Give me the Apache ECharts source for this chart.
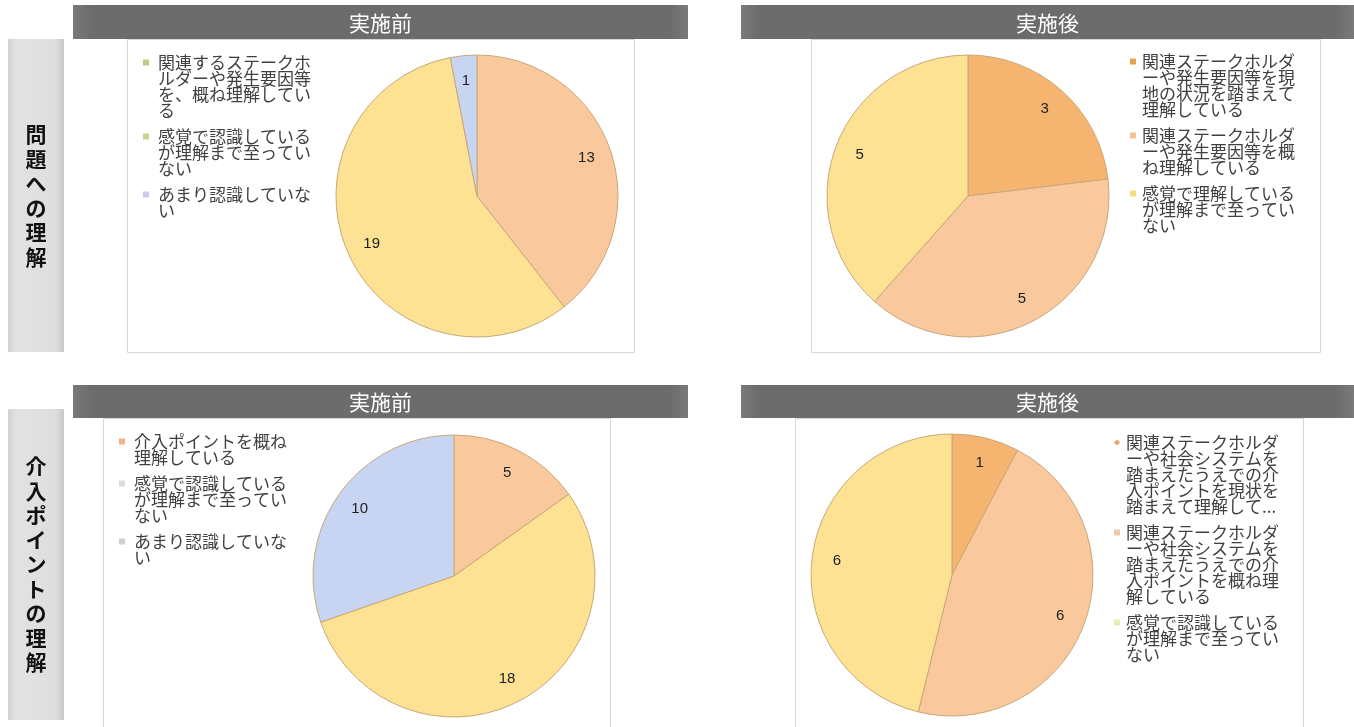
<!DOCTYPE html>
<html>
<head>
<meta charset="utf-8">
<script src="https://cdn.jsdelivr.net/npm/echarts@6/dist/echarts.min.js"></script>
<style>
  html, body { margin: 0; padding: 0; background: #ffffff; }
  #chart { width: 1354px; height: 727px; }
</style>
</head>
<body>
<div id="chart"></div>
<script>
// ---- 問題への理解：実施前 ----
const problemBeforeNames = [
  '関連するステークホルダーや発生要因等を、概ね理解している',
  '感覚で認識しているが理解まで至っていない',
  'あまり認識していない'
];
const problemBeforeLegend = [
  '関連するステークホ\nルダーや発生要因等\nを、概ね理解してい\nる',
  '感覚で認識している\nが理解まで至ってい\nない',
  'あまり認識していな\nい'
];
const problemBeforeValues = [13, 19, 1];

// ---- 問題への理解：実施後 ----
const problemAfterNames = [
  '関連ステークホルダーや発生要因等を現地の状況を踏まえて理解している',
  '関連ステークホルダーや発生要因等を概ね理解している',
  '感覚で理解しているが理解まで至っていない'
];
const problemAfterLegend = [
  '関連ステークホルダ\nーや発生要因等を現\n地の状況を踏まえて\n理解している',
  '関連ステークホルダ\nーや発生要因等を概\nね理解している',
  '感覚で理解している\nが理解まで至ってい\nない'
];
const problemAfterValues = [3, 5, 5];

// ---- 介入ポイントの理解：実施前 ----
const pointBeforeNames = [
  '介入ポイントを概ね理解している',
  '感覚で認識しているが理解まで至っていない',
  'あまり認識していない'
];
const pointBeforeLegend = [
  '介入ポイントを概ね\n理解している',
  '感覚で認識している\nが理解まで至ってい\nない',
  'あまり認識していな\nい'
];
const pointBeforeValues = [5, 18, 10];

// ---- 介入ポイントの理解：実施後 ----
const pointAfterNames = [
  '関連ステークホルダーや社会システムを踏まえたうえでの介入ポイントを現状を踏まえて理解している',
  '関連ステークホルダーや社会システムを踏まえたうえでの介入ポイントを概ね理解している',
  '感覚で認識しているが理解まで至っていない'
];
const pointAfterLegend = [
  '関連ステークホルダ\nーや社会システムを\n踏まえたうえでの介\n入ポイントを現状を\n踏まえて理解して...',
  '関連ステークホルダ\nーや社会システムを\n踏まえたうえでの介\n入ポイントを概ね理\n解している',
  '感覚で認識している\nが理解まで至ってい\nない'
];
const pointAfterValues = [1, 6, 6];

// Headings
const rowTitles = ['問題への理解', '介入ポイントの理解'];
const columnTitles = ['実施前', '実施後'];

// Slice colours and legend marker colours
const ORANGE = '#f5b46f', PEACH = '#f9c89c', YELLOW = '#fde293', BLUE = '#c7d5f2';
const problemBeforeColors = [PEACH, YELLOW, BLUE];
const problemAfterColors = [ORANGE, PEACH, YELLOW];
const pointBeforeColors = [PEACH, YELLOW, BLUE];
const pointAfterColors = [ORANGE, PEACH, YELLOW];
const problemBeforeMarkers = ['#b9cf80', '#c2d68a', '#cacbec'];
const problemAfterMarkers = ['#e6a253', '#f1c293', '#f5dc7c'];
const pointBeforeMarkers = ['#f2b18a', '#dddddd', '#cfcfcf'];
const pointAfterMarkers = ['#eca565', '#f0c9a8', '#e5eeb8'];

// Panel layout (pixels)
const LINE = 16;       // legend line height
const ITEM_EXTRA = 10; // extra space between legend entries
const panels = [
  { names: problemBeforeNames, legend: problemBeforeLegend, values: problemBeforeValues,
    colors: problemBeforeColors, markers: problemBeforeMarkers,
    center: [477, 196], r: 141, legendX: 143, textPad: 4, legendY: 62, icons: ['rect', 'rect', 'rect'] },
  { names: problemAfterNames, legend: problemAfterLegend, values: problemAfterValues,
    colors: problemAfterColors, markers: problemAfterMarkers,
    center: [968, 196], r: 141, legendX: 1130, textPad: 1, legendY: 61, icons: ['rect', 'rect', 'rect'] },
  { names: pointBeforeNames, legend: pointBeforeLegend, values: pointBeforeValues,
    colors: pointBeforeColors, markers: pointBeforeMarkers,
    center: [454, 576], r: 141, legendX: 119, textPad: 4, legendY: 441, icons: ['rect', 'rect', 'rect'] },
  { names: pointAfterNames, legend: pointAfterLegend, values: pointAfterValues,
    colors: pointAfterColors, markers: pointAfterMarkers,
    center: [952, 575], r: 141, legendX: 1114, textPad: 1, legendY: 442, icons: ['diamond', 'rect', 'rect'] }
];

const series = [];
const legends = [];

panels.forEach(function (p) {
  // the pie itself
  series.push({
    type: 'pie',
    center: p.center,
    radius: [0, p.r],
    startAngle: 90,
    clockwise: true,
    silent: true,
    avoidLabelOverlap: false,
    emphasis: { disabled: true },
    label: { show: false },
    labelLine: { show: false },
    itemStyle: { borderColor: '#c9a878', borderWidth: 1 },
    data: p.names.map(function (n, i) {
      return { name: n, value: p.values[i], itemStyle: { color: p.colors[i] } };
    }),
    z: 2
  });
  // transparent ring carrying the value labels at ~80% of the radius
  series.push({
    type: 'pie',
    center: p.center,
    radius: [p.r * 0.6, p.r],
    startAngle: 90,
    clockwise: true,
    silent: true,
    avoidLabelOverlap: false,
    emphasis: { disabled: true },
    itemStyle: { color: 'rgba(0,0,0,0)', borderWidth: 0 },
    label: {
      show: true,
      position: 'inside',
      formatter: '{c}',
      fontSize: 15,
      color: '#1e1e1e',
      fontFamily: '"Liberation Sans", Arial, sans-serif'
    },
    labelLine: { show: false },
    data: p.names.map(function (n, i) { return { name: n, value: p.values[i] }; }),
    z: 3
  });
  // one legend per entry; blank leading lines keep the marker on the first text line
  let y = p.legendY;
  p.names.forEach(function (n, i) {
    const text = p.legend[i];
    const lines = text.split('\n').length;
    const shown = '\n'.repeat(lines - 1) + text;
    legends.push({
      orient: 'vertical',
      left: p.legendX,
      top: y - (2 * lines - 1) * LINE / 2,
      padding: 0,
      itemWidth: 6,
      itemHeight: 6,
      selectedMode: false,
      formatter: function () { return shown; },
      textStyle: {
        fontSize: 17,
        lineHeight: LINE,
        color: '#404040',
        fontFamily: '"Noto Sans CJK JP", sans-serif',
        padding: [0, 0, 0, p.textPad]
      },
      data: [{ name: n, icon: p.icons[i], itemStyle: { color: p.markers[i], borderWidth: 0 } }]
    });
    y += lines * LINE + ITEM_EXTRA;
  });
});

// frames, heading bars and row captions
const graphics = [];
const panelBoxes = [
  { x: 127, y: 39, w: 507, h: 313 },
  { x: 811, y: 39, w: 509, h: 313 },
  { x: 103, y: 418, w: 507, h: 330 },
  { x: 795, y: 418, w: 508, h: 330 }
];
panelBoxes.forEach(function (b) {
  graphics.push({
    type: 'rect', z: 0,
    shape: { x: b.x + 0.5, y: b.y + 0.5, width: b.w, height: b.h },
    style: { fill: '#ffffff', stroke: '#d6d6d6', lineWidth: 1 }
  });
});
const headerBars = [
  { x: 73, y: 5, w: 615, h: 34, title: columnTitles[0] },
  { x: 741, y: 5, w: 613, h: 34, title: columnTitles[1] },
  { x: 73, y: 385, w: 615, h: 33, title: columnTitles[0] },
  { x: 741, y: 385, w: 613, h: 33, title: columnTitles[1] }
];
headerBars.forEach(function (b) {
  graphics.push({
    type: 'rect', z: 1,
    shape: { x: b.x, y: b.y, width: b.w, height: b.h },
    style: {
      fill: new echarts.graphic.LinearGradient(0, 0, 1, 0, [
        { offset: 0, color: '#7a7a7a' },
        { offset: 0.03, color: '#6c6c6c' },
        { offset: 0.97, color: '#6c6c6c' },
        { offset: 1, color: '#7a7a7a' }
      ])
    }
  });
  graphics.push({
    type: 'text', z: 2,
    x: b.x + b.w / 2, y: b.y + b.h / 2 + 1,
    style: {
      text: b.title, fill: '#ffffff', align: 'center', verticalAlign: 'middle',
      font: '21px "Noto Sans CJK JP", sans-serif'
    }
  });
});
const rowBoxes = [
  { x: 8, y: 39, w: 56, h: 313, title: rowTitles[0] },
  { x: 8, y: 409, w: 56, h: 311, title: rowTitles[1] }
];
rowBoxes.forEach(function (b) {
  graphics.push({
    type: 'rect', z: 1,
    shape: { x: b.x, y: b.y, width: b.w, height: b.h },
    style: {
      fill: new echarts.graphic.LinearGradient(0, 0, 1, 0, [
        { offset: 0, color: '#d2d2d2' },
        { offset: 0.15, color: '#e2e2e2' },
        { offset: 0.85, color: '#dedede' },
        { offset: 1, color: '#c9c9c9' }
      ])
    }
  });
  graphics.push({
    type: 'text', z: 2,
    x: b.x + b.w / 2, y: b.y + b.h / 2,
    style: {
      text: b.title.split('').join('\n'), fill: '#111111', align: 'center', verticalAlign: 'middle',
      font: 'bold 21px "Noto Sans CJK JP", sans-serif', lineHeight: 24.5
    }
  });
});

const chart = echarts.init(document.getElementById('chart'), null, { renderer: 'canvas' });
chart.setOption({
  backgroundColor: '#ffffff',
  animation: false,
  tooltip: { show: false },
  legend: legends,
  graphic: { elements: graphics },
  series: series
});
</script>
</body>
</html>
